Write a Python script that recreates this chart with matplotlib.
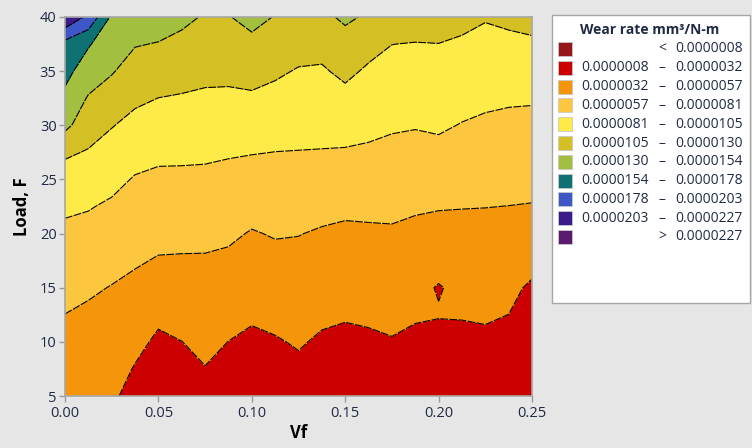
import matplotlib
matplotlib.use("Agg")
import matplotlib.pyplot as plt
import numpy as np
from matplotlib.patches import Rectangle

plt.rcParams['font.family'] = ['Open Sans', 'DejaVu Sans']

# Grid axes
vf = [0.0, 0.0125, 0.025, 0.0375, 0.05, 0.0625, 0.075, 0.0875, 0.1, 0.1125,
      0.125, 0.1375, 0.15, 0.1625, 0.175, 0.1875, 0.2, 0.2125, 0.225, 0.2375, 0.25]
load = [5, 7.5, 10, 12.5, 15, 17.5, 20, 22.5, 25, 27.5, 30, 32.5, 35, 37.5, 40]

# Wear rate (x 1e-6 mm3/N-m), one list per Vf column, bottom (load 5) to top (load 40)
wear_by_vf = [
    [3.9, 4.49, 5.08, 5.68, 6.33, 6.99, 7.65, 8.45, 9.54, 10.84, 13.6, 14.9, 16.04, 17.0, 22.5],
    [3.7, 4.26, 4.81, 5.37, 5.99, 6.73, 7.46, 8.23, 9.28, 10.33, 11.55, 12.8, 14.29, 15.6, 19.7],
    [3.6, 4.1, 4.61, 5.11, 5.62, 6.32, 7.06, 7.80, 8.67, 9.62, 10.61, 11.94, 13.18, 14.09, 15.0],
    [2.34, 3.06, 3.77, 4.49, 5.21, 5.92, 6.59, 7.27, 7.94, 8.86, 9.86, 10.9, 12.02, 13.13, 14.25],
    [1.5, 2.16, 2.83, 3.62, 4.59, 5.55, 6.29, 7.0, 7.70, 8.53, 9.52, 10.48, 11.70, 12.9, 14.1],
    [1.66, 2.43, 3.18, 3.97, 4.74, 5.51, 6.25, 6.97, 7.69, 8.5, 9.41, 10.32, 11.36, 12.44, 13.52],
    [2.53, 3.13, 3.72, 4.32, 4.91, 5.51, 6.2, 6.93, 7.66, 8.44, 9.3, 10.16, 11.03, 11.92, 12.8],
    [1.78, 2.49, 3.18, 3.91, 4.62, 5.33, 6.05, 6.78, 7.52, 8.28, 9.19, 10.1, 11.03, 11.96, 12.9],
    [1.39, 2.09, 2.78, 3.48, 4.17, 4.87, 5.56, 6.41, 7.29, 8.18, 9.18, 10.18, 11.3, 12.48, 13.66],
    [1.63, 2.33, 3.03, 3.73, 4.44, 5.14, 5.85, 6.6, 7.35, 8.08, 8.9, 9.89, 10.83, 11.87, 12.9],
    [2.21, 2.8, 3.39, 3.98, 4.57, 5.16, 5.76, 6.52, 7.28, 8.04, 8.81, 9.58, 10.35, 11.3, 12.3],
    [1.63, 2.27, 2.92, 3.56, 4.21, 4.85, 5.5, 6.28, 7.14, 8.0, 8.76, 9.51, 10.26, 11.19, 12.5],
    [1.43, 2.08, 2.73, 3.38, 4.03, 4.68, 5.33, 6.1, 7.01, 7.92, 8.9, 9.9, 10.98, 12.18, 13.38],
    [1.61, 2.24, 2.87, 3.5, 4.14, 4.77, 5.4, 6.13, 6.97, 7.8, 8.61, 9.4, 10.19, 11.21, 12.7],
    [1.89, 2.49, 3.08, 3.68, 4.27, 4.87, 5.46, 6.14, 6.87, 7.6, 8.33, 9.05, 9.78, 10.52, 11.9],
    [1.54, 2.16, 2.78, 3.4, 4.02, 4.64, 5.26, 5.92, 6.69, 7.46, 8.22, 8.95, 9.68, 10.41, 11.7],
    [1.3, 1.65, 2.0, 3.4, 3.0, 4.3, 5.1, 5.81, 6.69, 7.57, 8.38, 9.08, 9.77, 10.47, 11.7],
    [1.5, 2.11, 2.71, 3.32, 3.93, 4.54, 5.14, 5.76, 6.51, 7.26, 8.01, 8.76, 9.51, 10.26, 11.0],
    [1.67, 2.25, 2.83, 3.41, 3.99, 4.56, 5.14, 5.73, 6.41, 7.09, 7.77, 8.48, 9.2, 9.92, 10.65],
    [1.34, 1.96, 2.58, 3.19, 3.82, 4.44, 5.06, 5.68, 6.33, 6.98, 7.63, 8.34, 9.2, 10.06, 10.91],
    [1.4, 2.0, 2.7, 3.1, 2.8, 4.05, 4.83, 5.61, 6.27, 6.93, 7.58, 8.29, 9.24, 10.2, 11.15],
]

# Contour levels (x 1e-6) and Minitab-like colours
levels = [0.8, 3.2, 5.7, 8.1, 10.5, 13.0, 15.4, 17.8, 20.3, 22.7]
colors = ['#96161a', '#cc0000', '#f5960a', '#fcc63f', '#ffeb47', '#d4c024',
          '#a3bf3f', '#0f7272', '#3d57c7', '#3b1a8c', '#5a1a6e']
legend_labels = ['0.0000008', '0.0000032', '0.0000057', '0.0000081', '0.0000105',
                 '0.0000130', '0.0000154', '0.0000178', '0.0000203', '0.0000227']

z = np.array(wear_by_vf).T

fig = plt.figure(figsize=(7.52, 4.48), dpi=100)
fig.patch.set_facecolor('#e6e6e6')
ax = fig.add_axes([65 / 752, 52 / 448, 467 / 752, 379 / 448])

fill_levels = [-100] + levels + [100]
ax.contourf(vf, load, z, levels=fill_levels, colors=colors)
cs = ax.contour(vf, load, z, levels=levels, colors='k', linewidths=0.8)
cs.set_linestyle((0, (7, 1.2)))

ax.set_xlim(0, 0.25)
ax.set_ylim(5, 40)
ax.set_xticks([0, 0.05, 0.10, 0.15, 0.20, 0.25])
ax.set_xticklabels(['0.00', '0.05', '0.10', '0.15', '0.20', '0.25'])
ax.set_yticks([5, 10, 15, 20, 25, 30, 35, 40])
ax.tick_params(colors='#9a9a9a', labelcolor='#1f2a44', labelsize=10.5,
               length=4, width=1, direction='out')
ax.tick_params(axis='x', pad=3)
ax.tick_params(axis='y', pad=2)
for sp in ax.spines.values():
    sp.set_color('#a6a6a6')
    sp.set_linewidth(1.2)
ax.set_xlabel('Vf', fontsize=12, fontweight='bold', labelpad=2)
ax.set_ylabel('Load, F', fontsize=12, fontweight='bold', labelpad=6)

# Legend box drawn by hand
fig.patches.append(Rectangle((552 / 752, 1 - 303 / 448), 198 / 752, 288 / 448,
                             transform=fig.transFigure, facecolor='white',
                             edgecolor='#a6a6a6', linewidth=1))
fig.text(650 / 752, 1 - 30 / 448, 'Wear rate mm³/N-m', ha='center', va='center',
         fontsize=10, fontweight='bold', color='#1f2a44')

row_y = [49 + 18.8 * i for i in range(len(colors))]
for i, (c, y) in enumerate(zip(colors, row_y)):
    yf = 1 - y / 448
    fig.patches.append(Rectangle((558 / 752, yf - 7 / 448), 14 / 752, 14 / 448,
                                 transform=fig.transFigure, facecolor=c,
                                 edgecolor='#c8c8c8', linewidth=0.6))
    if i == 0:
        fig.text(662 / 752, yf, '<', ha='center', va='center', fontsize=10, color='#1f2a44')
        fig.text(675 / 752, yf, legend_labels[0], ha='left', va='center', fontsize=10, color='#1f2a44')
    elif i == len(colors) - 1:
        fig.text(662 / 752, yf, '>', ha='center', va='center', fontsize=10, color='#1f2a44')
        fig.text(675 / 752, yf, legend_labels[-1], ha='left', va='center', fontsize=10, color='#1f2a44')
    else:
        fig.text(581 / 752, yf, legend_labels[i - 1], ha='left', va='center', fontsize=10, color='#1f2a44')
        fig.text(662 / 752, yf, '–', ha='center', va='center', fontsize=10, color='#1f2a44')
        fig.text(675 / 752, yf, legend_labels[i], ha='left', va='center', fontsize=10, color='#1f2a44')

fig.savefig('out.png', dpi=100, facecolor=fig.get_facecolor())
